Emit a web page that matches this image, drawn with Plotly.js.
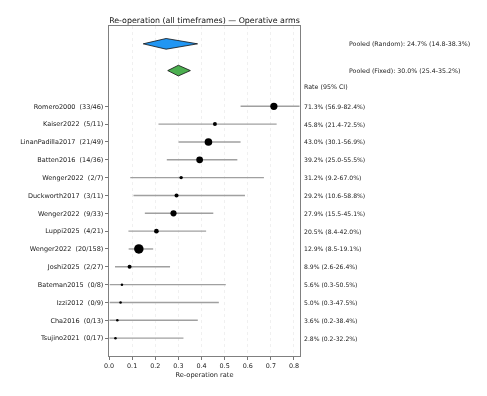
<!DOCTYPE html>
<html><head><meta charset="utf-8">
<script src="https://cdn.plot.ly/plotly-3.0.1.min.js"></script>
<style>html,body{margin:0;padding:0;background:#fff}
#chart .main-svg{will-change:transform}
</style>
</head><body>
<div id="chart" style="width:487px;height:396px"></div>
<script>
// Study data (top to bottom)
const studies = ["Romero2000", "Kaiser2022", "LinanPadilla2017", "Batten2016", "Wenger2022", "Duckworth2017", "Wenger2022", "Luppi2025", "Wenger2022", "Joshi2025", "Bateman2015", "Izzi2012", "Cha2016", "Tsujino2021"];
const events = [33, 5, 21, 14, 2, 3, 9, 4, 20, 2, 0, 0, 0, 0];
const totals = [46, 11, 49, 36, 7, 11, 33, 21, 158, 27, 8, 9, 13, 17];
const rate = [71.3, 45.8, 43.0, 39.2, 31.2, 29.2, 27.9, 20.5, 12.9, 8.9, 5.6, 5.0, 3.6, 2.8];
const lower = [56.9, 21.4, 30.1, 25.0, 9.2, 10.6, 15.5, 8.4, 8.5, 2.6, 0.3, 0.3, 0.2, 0.2];
const upper = [82.4, 72.5, 56.9, 55.5, 67.0, 58.8, 45.1, 42.0, 19.1, 26.4, 50.5, 47.5, 38.4, 32.2];
// relative study weights
const weights = [52, 16, 58, 46, 12, 16, 38, 22, 90, 16, 6.5, 6.5, 6.5, 6.5];

// Pooled estimates
const pooledRandom = {est: 24.7, lo: 14.8, hi: 38.3};
const pooledFixed = {est: 30.0, lo: 25.4, hi: 35.2};

const xTicks = [0, 0.1, 0.2, 0.3, 0.4, 0.5, 0.6, 0.7, 0.8];

const n = studies.length;
const yPos = studies.map((_, i) => n - i);
const yRandom = n + 3.5, yFixed = n + 2, yHeader = n + 1.1;
const dh = 0.3;

const font = "DejaVu Sans, Liberation Sans, sans-serif";

const traces = [];
// CI lines
const ciX = [], ciY = [];
studies.forEach((_, i) => { ciX.push(lower[i] / 100, upper[i] / 100, null); ciY.push(yPos[i], yPos[i], null); });
traces.push({type: 'scatter', mode: 'lines', x: ciX, y: ciY,
  line: {color: '#a0a0a0', width: 1.4}, connectgaps: false, hoverinfo: 'skip', showlegend: false});
// point estimates
traces.push({
  type: 'scatter', mode: 'markers',
  x: rate.map(v => v / 100), y: yPos,
  marker: {color: '#000', size: weights.map(w => Math.sqrt(w)), line: {width: 0}, opacity: 1},
  hoverinfo: 'skip', showlegend: false
});
function diamond(p, y, color) {
  return {type: 'scatter', mode: 'lines',
    x: [p.lo, p.est, p.hi, p.est, p.lo].map(v => v / 100),
    y: [y, y + dh, y, y - dh, y],
    fill: 'toself', fillcolor: color, line: {color: '#111', width: 0.8},
    hoverinfo: 'skip', showlegend: false};
}
traces.push(diamond(pooledRandom, yRandom, '#2196f3'));
traces.push(diamond(pooledFixed, yFixed, '#4caf50'));

const f1 = v => v.toFixed(1);
const annotations = studies.map((s, i) => ({
  xref: 'paper', yref: 'y', x: 1.012, y: yPos[i], xanchor: 'left', yanchor: 'middle',
  text: `${f1(rate[i])}% (${f1(lower[i])}-${f1(upper[i])}%)`, showarrow: false,
  font: {family: font, size: 6.1, color: '#1a1a1a'}
}));
annotations.push({xref: 'paper', yref: 'y', x: 1.012, y: yHeader, xanchor: 'left', yanchor: 'middle',
  text: 'Rate (95% CI)', showarrow: false, font: {family: font, size: 6.3, color: '#1a1a1a'}});
annotations.push({xref: 'paper', yref: 'y', x: 1.248, y: yRandom, xanchor: 'left', yanchor: 'middle',
  text: `Pooled (Random): ${f1(pooledRandom.est)}% (${f1(pooledRandom.lo)}-${f1(pooledRandom.hi)}%)`,
  showarrow: false, font: {family: font, size: 6.3, color: '#1a1a1a'}});
annotations.push({xref: 'paper', yref: 'y', x: 1.248, y: yFixed, xanchor: 'left', yanchor: 'middle',
  text: `Pooled (Fixed): ${f1(pooledFixed.est)}% (${f1(pooledFixed.lo)}-${f1(pooledFixed.hi)}%)`,
  showarrow: false, font: {family: font, size: 6.3, color: '#1a1a1a'}});

const layout = {
  width: 487, height: 396,
  margin: {l: 109, r: 187, t: 26, b: 40},
  paper_bgcolor: '#fff', plot_bgcolor: '#fff',
  font: {family: font, color: '#1a1a1a'},
  title: {text: 'Re-operation (all timeframes) — Operative arms', x: 0.5, xref: 'paper',
    xanchor: 'center', y: 1, yref: 'paper', yanchor: 'bottom', pad: {b: 3},
    font: {family: font, size: 7.9, color: '#111'}},
  xaxis: {range: [0, 0.826], tickvals: xTicks, ticktext: xTicks.map(v => v.toFixed(1)),
    ticks: 'outside', ticklen: 3, tickwidth: 0.8, tickcolor: '#555',
    showgrid: true, gridcolor: '#ececec', griddash: 'dot', gridwidth: 0.8,
    showline: true, linecolor: '#808080', linewidth: 1.3, mirror: true, zeroline: false,
    tickfont: {family: font, size: 6.4, color: '#1a1a1a'},
    title: {text: 'Re-operation rate', standoff: 3, font: {family: font, size: 6.6, color: '#1a1a1a'}}},
  yaxis: {range: [0, n + 4.5], tickvals: yPos,
    ticktext: studies.map((s, i) => `${s}  (${events[i]}/${totals[i]})`),
    ticks: 'outside', ticklen: 3, tickwidth: 0.8, tickcolor: '#555',
    showgrid: false, zeroline: false,
    showline: true, linecolor: '#808080', linewidth: 1.3, mirror: true,
    tickfont: {family: font, size: 6.5, color: '#1a1a1a'}},
  annotations: annotations
};

Plotly.newPlot('chart', traces, layout, {displayModeBar: false, staticPlot: true});
</script>
</body></html>
